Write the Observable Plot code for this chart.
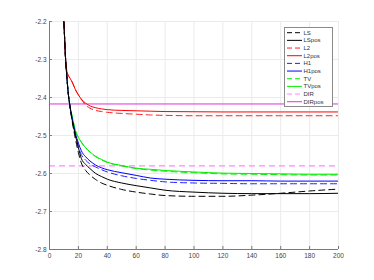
<!DOCTYPE html>
<html><head><meta charset="utf-8">
<script src="https://cdn.jsdelivr.net/npm/d3@7"></script>
<script src="https://cdn.jsdelivr.net/npm/@observablehq/plot@0.6"></script>
<style>html,body{margin:0;padding:0;background:#fff;} #chart{width:374px;height:280px;}</style>
</head><body><div id="chart"></div>
<script>
const iters = [9,10,11,12,13,14,16,18,20,22,25,28,32,36,40,50,60,70,80,100,120,140,160,180,200];
const LS    = [-2.15,-2.205,-2.29,-2.345,-2.39,-2.42,-2.47,-2.51,-2.545,-2.572,-2.592,-2.604,-2.616,-2.625,-2.631,-2.642,-2.649,-2.654,-2.658,-2.660,-2.660,-2.657,-2.652,-2.646,-2.641];
const LSpos = [-2.15,-2.205,-2.29,-2.345,-2.39,-2.42,-2.465,-2.50,-2.532,-2.560,-2.576,-2.587,-2.600,-2.608,-2.615,-2.625,-2.632,-2.638,-2.644,-2.649,-2.652,-2.653,-2.653,-2.653,-2.652];
const L2    = [-2.15,-2.205,-2.29,-2.33,-2.342,-2.348,-2.362,-2.38,-2.393,-2.405,-2.420,-2.428,-2.434,-2.437,-2.439,-2.442,-2.444,-2.446,-2.447,-2.448,-2.448,-2.448,-2.448,-2.448,-2.448];
const L2pos = [-2.15,-2.205,-2.29,-2.33,-2.342,-2.348,-2.362,-2.38,-2.393,-2.404,-2.415,-2.422,-2.427,-2.430,-2.432,-2.434,-2.435,-2.436,-2.437,-2.4375,-2.438,-2.438,-2.438,-2.438,-2.438];
const H1    = [-2.15,-2.205,-2.29,-2.345,-2.39,-2.419,-2.463,-2.50,-2.53,-2.55,-2.565,-2.575,-2.583,-2.590,-2.596,-2.606,-2.613,-2.618,-2.622,-2.625,-2.626,-2.627,-2.627,-2.627,-2.627];
const H1pos = [-2.15,-2.205,-2.29,-2.345,-2.39,-2.418,-2.462,-2.495,-2.52,-2.54,-2.556,-2.567,-2.578,-2.585,-2.590,-2.598,-2.605,-2.612,-2.615,-2.618,-2.619,-2.619,-2.620,-2.620,-2.620];
const TV    = [-2.15,-2.205,-2.29,-2.345,-2.39,-2.417,-2.455,-2.488,-2.505,-2.518,-2.533,-2.544,-2.556,-2.564,-2.571,-2.580,-2.587,-2.591,-2.594,-2.598,-2.601,-2.602,-2.603,-2.604,-2.604];
const TVpos = [-2.15,-2.205,-2.29,-2.345,-2.39,-2.417,-2.455,-2.487,-2.505,-2.517,-2.532,-2.543,-2.555,-2.563,-2.570,-2.579,-2.586,-2.589,-2.592,-2.596,-2.599,-2.600,-2.601,-2.602,-2.602];
const DIR = -2.58;
const DIRpos = -2.417;

const seriesNames = ["LS","LSpos","L2","L2pos","H1","H1pos","TV","TVpos","DIR","DIRpos"];
const seriesColors = ["#000000","#000000","#ff2020","#ff0000","#2020ff","#0000ff","#00ee00","#00ee00","#ff88ff","#e030e0"];
const seriesDashed = [true,false,true,false,true,false,true,false,true,false];
const xTicks = [0,20,40,60,80,100,120,140,160,180,200];
const yTicks = [-2.8,-2.7,-2.6,-2.5,-2.4,-2.3,-2.2];

const curves = {LS, LSpos, L2, L2pos, H1, H1pos, TV, TVpos};
const dash = "6,4";
const lineMarks = [];
["TV","TVpos","H1","H1pos","L2","L2pos","LS","LSpos"].forEach(name => {
  const i = seriesNames.indexOf(name);
  const rows = iters.map((x, k) => ({x, y: curves[name][k]}));
  lineMarks.push(Plot.line(rows, {x: "x", y: "y", stroke: seriesColors[i], strokeWidth: 1,
    strokeDasharray: seriesDashed[i] ? dash : null, curve: "monotone-x", clip: true}));
});

const axisColor = "#7a7a7a";
const plot = Plot.plot({
  width: 374, height: 280,
  marginLeft: 49, marginRight: 36, marginTop: 21, marginBottom: 31,
  style: {fontFamily: "Liberation Sans, Arial, sans-serif", fontSize: "6.5px", background: "#fff", color: "#444"},
  x: {domain: [0, 200], ticks: xTicks, label: null},
  y: {domain: [-2.8, -2.2], ticks: yTicks, label: null},
  marks: [
    Plot.ruleX(xTicks, {stroke: "#ebebeb", strokeWidth: 1}),
    Plot.ruleY(yTicks, {stroke: "#ebebeb", strokeWidth: 1}),
    Plot.ruleY([DIR], {x1: 0, x2: 200, stroke: seriesColors[8], strokeWidth: 1.2, strokeDasharray: dash}),
    Plot.ruleY([DIRpos], {x1: 0, x2: 200, stroke: seriesColors[9], strokeWidth: 1}),
    ...lineMarks,
    Plot.ruleY([-2.8], {x1: 0, x2: 200, stroke: axisColor}),
    Plot.ruleX([0], {y1: -2.8, y2: -2.2, stroke: axisColor}),
    Plot.ruleX(xTicks, {y1: -2.8, y2: -2.792, stroke: axisColor}),
    Plot.ruleY(yTicks, {x1: 0, x2: 2, stroke: axisColor}),
    Plot.axisX({ticks: xTicks, tickSize: 0, tickPadding: 4, tickFormat: d => String(d), label: null, fill: "#444"}),
    Plot.axisY({ticks: yTicks, tickSize: 0, tickPadding: 3, tickFormat: d => d.toFixed(1), label: null, fill: "#444"})
  ]
});
document.getElementById("chart").appendChild(plot);

// Legend box inside the plot area
const svg = d3.select(plot);
const lg = svg.append("g").attr("transform", "translate(284,27)").attr("text-anchor", "start");
lg.append("rect").attr("x", 0.5).attr("y", 0.5).attr("width", 48).attr("height", 79)
  .attr("fill", "#fff").attr("stroke", "#8a8a8a").attr("stroke-width", 1);
seriesNames.forEach((name, i) => {
  const yy = 5.7 + i * 7.67;
  lg.append("line").attr("x1", 3).attr("x2", 18).attr("y1", yy).attr("y2", yy)
    .attr("stroke", seriesColors[i]).attr("stroke-width", 1)
    .attr("stroke-dasharray", seriesDashed[i] ? "5,3" : null);
  lg.append("text").attr("x", 19.5).attr("y", yy).attr("dy", "0.35em")
    .attr("text-anchor", "start")
    .attr("font-family", "Liberation Sans, Arial, sans-serif").attr("font-size", "6px")
    .attr("fill", "#333").text(name);
});
</script>
</body></html>
